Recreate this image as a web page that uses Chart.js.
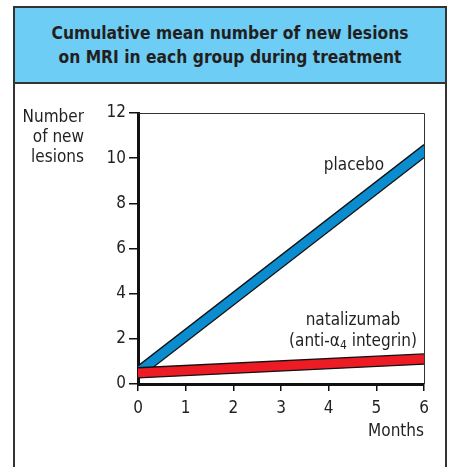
<!DOCTYPE html>
<html>
<head>
<meta charset="utf-8">
<title>Cumulative new lesions</title>
<script src="https://cdn.jsdelivr.net/npm/chart.js@4/dist/chart.umd.min.js"></script>
<style>
  body { margin: 0; background: #fff; font-family: "Liberation Sans Narrow", "DejaVu Sans Condensed", sans-serif; }
  #frame {
    position: absolute; left: 13px; top: 6px; width: 434px; height: 480px;
    border: 2px solid #333; box-sizing: border-box;
  }
  #header {
    height: 76px; background: #6dcdf5; border-bottom: 2px solid #333; box-sizing: border-box;
    display: flex; align-items: center; justify-content: center; text-align: center;
    font-weight: bold; font-size: 17.3px; line-height: 24px; color: #231f20;
  }
  #wrap { position: absolute; left: 0; top: 0; width: 449px; height: 467px; }
</style>
</head>
<body>
<div id="frame">
  <div id="header">Cumulative mean number of new lesions<br>on MRI in each group during treatment</div>
</div>
<div id="wrap"><canvas id="lesionChart"></canvas></div>
<script>
const FONT = '"Liberation Sans Narrow", "DejaVu Sans Condensed", sans-serif';

// months on the x axis
const months = [0, 6];
// each group is a band between an upper and a lower edge
const placeboHigh = [0.8, 10.6];
const placeboLow = [0.22, 10.02];
const nataHigh = [0.72, 1.33];
const nataLow = [0.27, 0.88];
const yTicks = [0, 2, 4, 6, 8, 10, 12];
const xTicks = [0, 1, 2, 3, 4, 5, 6];

const toPoints = (vals) => months.map((m, i) => ({ x: m, y: vals[i] }));

// band edges: black outline, fill goes from the lower edge up to the upper one
const band = (vals, colour, fill) => ({
  data: toPoints(vals),
  borderColor: "#111",
  borderWidth: 1.3,
  backgroundColor: colour,
  pointRadius: 0,
  fill: fill,
});

// labels inside the plot plus the thin top/right frame lines
const extras = {
  id: "extras",
  afterDatasetsDraw(chart) {
    const { ctx, chartArea, scales } = chart;
    const sx = scales.x, sy = scales.y;
    ctx.save();
    ctx.strokeStyle = "#333";
    ctx.lineWidth = 1;
    ctx.beginPath();
    ctx.moveTo(chartArea.left, chartArea.top + 0.5);
    ctx.lineTo(chartArea.right + 0.5, chartArea.top + 0.5);
    ctx.lineTo(chartArea.right + 0.5, chartArea.bottom);
    ctx.stroke();

    ctx.fillStyle = "#231f20";
    ctx.font = "17px " + FONT;
    ctx.textBaseline = "middle";
    ctx.textAlign = "center";
    ctx.fillText("placebo", sx.getPixelForValue(4.53), sy.getPixelForValue(9.69));
    ctx.fillText("natalizumab", sx.getPixelForValue(4.51), sy.getPixelForValue(2.83));

    // "(anti-α4 integrin)" with a subscript 4
    const yLine = sy.getPixelForValue(1.9);
    const a = "(anti-\u03b1", b = "4", c = " integrin)";
    const wa = ctx.measureText(a).width;
    const wc = ctx.measureText(c).width;
    ctx.font = "12px " + FONT;
    const wb = ctx.measureText(b).width;
    const total = wa + wb + wc;
    let x0 = sx.getPixelForValue(4.51) - total / 2;
    ctx.textAlign = "left";
    ctx.font = "17px " + FONT;
    ctx.fillText(a, x0, yLine);
    ctx.font = "12px " + FONT;
    ctx.fillText(b, x0 + wa, yLine + 5);
    ctx.font = "17px " + FONT;
    ctx.fillText(c, x0 + wa + wb, yLine);

    // y axis title, three right-aligned lines
    ctx.textAlign = "right";
    const tx = chartArea.left - 54;
    ["Number", "of new", "lesions"].forEach((t, i) => {
      ctx.fillText(t, tx, chartArea.top + 5 + i * 20);
    });
    ctx.restore();
  },
};

new Chart(document.getElementById("lesionChart"), {
  type: "line",
  data: {
    datasets: [
      band(nataHigh, "#ed1c24", false),
      band(nataLow, "#ed1c24", "-1"),
      band(placeboHigh, "#0a8ccf", false),
      band(placeboLow, "#0a8ccf", "-1"),
    ],
  },
  options: {
    responsive: true,
    maintainAspectRatio: false,
    animation: false,
    layout: { padding: { left: 98, top: 113, right: 25, bottom: 21 } },
    plugins: { legend: { display: false }, tooltip: { enabled: false } },
    scales: {
      x: {
        type: "linear",
        min: 0,
        max: 6,
        afterFit: (s) => { s.height = 62; },
        afterBuildTicks: (s) => { s.ticks = xTicks.map((v) => ({ value: v })); },
        ticks: { color: "#231f20", font: { family: FONT, size: 17 }, padding: 7 },
        grid: { drawOnChartArea: false, tickLength: 7, color: "#111", lineWidth: 1.5 },
        border: { color: "#111", width: 3 },
        title: {
          display: true, text: "Months", align: "end", color: "#231f20",
          font: { family: FONT, size: 17 }, padding: { top: 0, bottom: 4 },
        },
      },
      y: {
        min: 0,
        max: 12,
        afterFit: (s) => { s.width = 40; },
        afterBuildTicks: (s) => { s.ticks = yTicks.map((v) => ({ value: v })); },
        ticks: { color: "#231f20", font: { family: FONT, size: 17 }, padding: 3 },
        grid: { drawOnChartArea: false, tickLength: 9, color: "#111", lineWidth: 1.5 },
        border: { color: "#111", width: 3 },
      },
    },
  },
  plugins: [extras],
});
</script>
</body>
</html>
